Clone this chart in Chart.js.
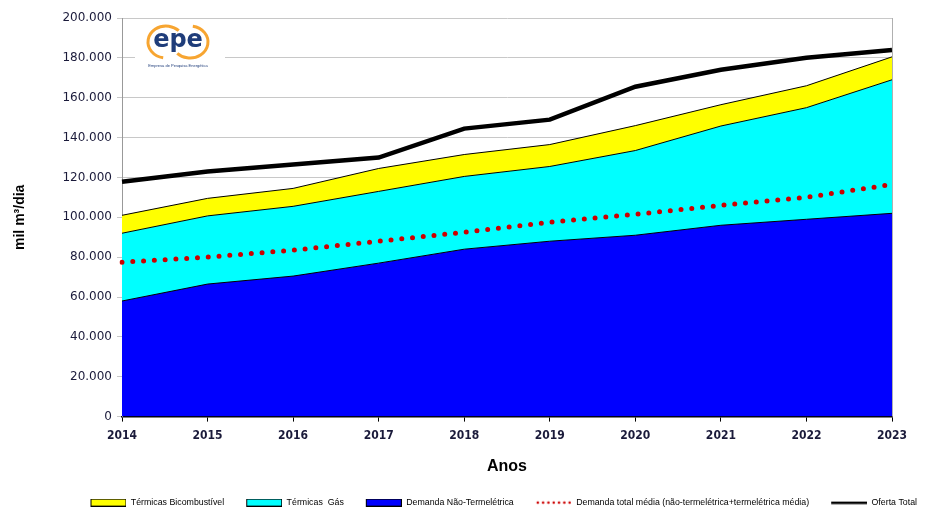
<!DOCTYPE html>
<html>
<head>
<meta charset="utf-8">
<script src="https://cdn.jsdelivr.net/npm/chart.js@4"></script>
<style>
  html, body { margin: 0; padding: 0; background: #fff; overflow: hidden; }
  #wrap { width: 927px; height: 517px; }
</style>
</head>
<body>
<div id="wrap"><canvas id="gasChart"></canvas></div>
<script>
// anos e valores (mil m3/dia)
const years = ["2014", "2015", "2016", "2017", "2018", "2019", "2020", "2021", "2022", "2023"];
const demandaNaoTermeletrica = [58000, 66500, 70500, 77000, 84000, 88000, 91000, 96000, 99000, 102000];
const termicasGas = [34000, 34200, 35000, 36000, 36500, 37500, 42500, 49800, 56000, 67000];
const termicasBicombustivel = [9000, 8800, 9000, 11500, 11000, 11000, 12500, 10700, 11000, 11500];
const demandaTotalMedia = [77500, 80000, 83500, 88000, 92500, 97500, 101500, 106000, 110000, 116500];
const ofertaTotal = [117800, 123000, 126500, 130000, 144500, 149000, 165500, 174000, 180000, 184000];
const yTicks = [0, 20000, 40000, 60000, 80000, 100000, 120000, 140000, 160000, 180000, 200000];

// ordem na legenda (por índice do dataset)
const legendRank = [2, 1, 0, 3, 4];

function fmt(v) {
    if (v === 0) return "0";
    return String(v).replace(/\B(?=(\d{3})+(?!\d))/g, ".");
}

// pequenos desenhos para a legenda (espaço livre à esquerda)
function markerCanvas() {
    const c = document.createElement("canvas");
    c.width = 48; c.height = 8;
    return c;
}
function boxMarker(fill) {
    const c = markerCanvas();
    const g = c.getContext("2d");
    g.fillStyle = fill;
    g.fillRect(13, 1, 34, 6);
    g.strokeStyle = "#000";
    g.lineWidth = 1;
    g.strokeRect(12.5, 0.5, 35, 7);
    return c;
}
function dotMarker() {
    const c = markerCanvas();
    const g = c.getContext("2d");
    g.fillStyle = "#cc0000";
    for (let x = 14; x < 48; x += 5.3) {
        g.beginPath();
        g.arc(x, 4, 1.3, 0, Math.PI * 2);
        g.fill();
    }
    return c;
}
function lineMarker() {
    const c = markerCanvas();
    const g = c.getContext("2d");
    g.fillStyle = "#000";
    g.fillRect(12, 3, 36, 2.5);
    return c;
}

// borda direita da área do gráfico
const rightBorder = {
    id: "rightBorder",
    afterDatasetsDraw(chart) {
        const a = chart.chartArea, ctx = chart.ctx;
        ctx.save();
        ctx.strokeStyle = "#b0b0b0";
        ctx.lineWidth = 1;
        ctx.beginPath();
        ctx.moveTo(a.right + 0.5, a.top);
        ctx.lineTo(a.right + 0.5, a.bottom);
        ctx.stroke();
        ctx.restore();
    }
};

// logo epe
const epeLogo = {
    id: "epeLogo",
    afterDraw(chart) {
        const ctx = chart.ctx;
        ctx.save();
        ctx.fillStyle = "#fff";
        ctx.fillRect(135, 20, 90, 58);
        ctx.strokeStyle = "#f7a531";
        ctx.lineWidth = 3;
        ctx.beginPath();
        ctx.ellipse(166, 42, 18, 16, 0, Math.PI * 0.55, Math.PI * 1.75);
        ctx.stroke();
        ctx.beginPath();
        ctx.ellipse(190, 42, 18, 16, 0, Math.PI * 1.55, Math.PI * 0.75);
        ctx.stroke();
        ctx.fillStyle = "#1f3d7a";
        ctx.font = "bold 24px 'DejaVu Sans'";
        ctx.textAlign = "center";
        ctx.textBaseline = "middle";
        ctx.fillText("epe", 178, 41);
        ctx.font = "4px 'Liberation Sans'";
        ctx.fillText("Empresa de Pesquisa Energética", 178, 66);
        ctx.restore();
    }
};

const gasChart = document.getElementById("gasChart");

new Chart(gasChart, {
    type: "line",
    data: {
        labels: years,
        datasets: [
            {
                label: "Demanda Não-Termelétrica",
                data: demandaNaoTermeletrica,
                stack: "oferta",
                backgroundColor: "#0000ff",
                borderColor: "#000",
                borderWidth: 1,
                fill: "origin",
                pointStyle: boxMarker("#0000ff")
            },
            {
                label: "Térmicas  Gás",
                data: termicasGas,
                stack: "oferta",
                backgroundColor: "#00ffff",
                borderColor: "#000",
                borderWidth: 1,
                fill: "-1",
                pointStyle: boxMarker("#00ffff")
            },
            {
                label: "Térmicas Bicombustível",
                data: termicasBicombustivel,
                stack: "oferta",
                backgroundColor: "#ffff00",
                borderColor: "#000",
                borderWidth: 1,
                fill: "-1",
                pointStyle: boxMarker("#ffff00")
            },
            {
                label: "Demanda total média (não-termelétrica+termelétrica média)",
                data: demandaTotalMedia,
                stack: "media",
                borderColor: "#cc0000",
                borderWidth: 5,
                borderDash: [0, 10.8],
                borderCapStyle: "round",
                fill: false,
                pointStyle: dotMarker()
            },
            {
                label: "Oferta Total",
                data: ofertaTotal,
                stack: "total",
                borderColor: "#000",
                borderWidth: 4.5,
                fill: false,
                pointStyle: lineMarker()
            }
        ]
    },
    options: {
        responsive: true,
        maintainAspectRatio: false,
        animation: false,
        layout: {
            padding: { top: 18, right: 0, left: 0, bottom: 0 }
        },
        elements: {
            point: { radius: 0, hoverRadius: 0 },
            line: { tension: 0 }
        },
        plugins: {
            filler: { drawTime: "beforeDatasetsDraw" },
            tooltip: { enabled: false },
            legend: {
                position: "bottom",
                align: "end",
                labels: {
                    usePointStyle: true,
                    pointStyleWidth: 48,
                    boxHeight: 8,
                    padding: 10,
                    color: "#000",
                    font: { family: "'Liberation Sans', Arial", size: 8.8 },
                    sort: (a, b) => legendRank[a.datasetIndex] - legendRank[b.datasetIndex]
                }
            }
        },
        scales: {
            x: {
                offset: false,
                grid: {
                    drawOnChartArea: false,
                    tickLength: 5,
                    color: "#000"
                },
                border: { color: "#000", width: 1.5 },
                ticks: {
                    color: "#1a1a3a",
                    maxRotation: 0,
                    padding: 7,
                    font: { family: "'DejaVu Sans Condensed', 'Liberation Sans'", size: 12, weight: "bold" }
                },
                title: {
                    display: true,
                    text: "Anos",
                    color: "#000",
                    font: { family: "'Liberation Sans', Arial", size: 16, weight: "bold" },
                    padding: { top: 7, bottom: 12 }
                }
            },
            y: {
                stacked: true,
                min: 0,
                max: 200000,
                afterBuildTicks: (axis) => { axis.ticks = yTicks.map(v => ({ value: v })); },
                afterFit: (axis) => { axis.width = 122; },
                grid: {
                    color: "#c8c8c8",
                    tickLength: 5
                },
                border: { color: "#999" },
                ticks: {
                    color: "#1a1a3a",
                    padding: 5,
                    font: { family: "'DejaVu Sans'", size: 12 },
                    callback: (v) => fmt(v)
                },
                title: {
                    display: true,
                    text: "mil m³/dia",
                    color: "#000",
                    font: { family: "'Liberation Sans', Arial", size: 14, weight: "bold" },
                    padding: { top: 12, bottom: 0 }
                }
            },
            // espaço vazio à direita do gráfico
            yRight: {
                type: "linear",
                position: "right",
                grid: { display: false },
                border: { display: false },
                ticks: { display: false },
                afterFit: (axis) => { axis.width = 35; }
            }
        }
    },
    plugins: [rightBorder, epeLogo]
});
</script>
</body>
</html>
